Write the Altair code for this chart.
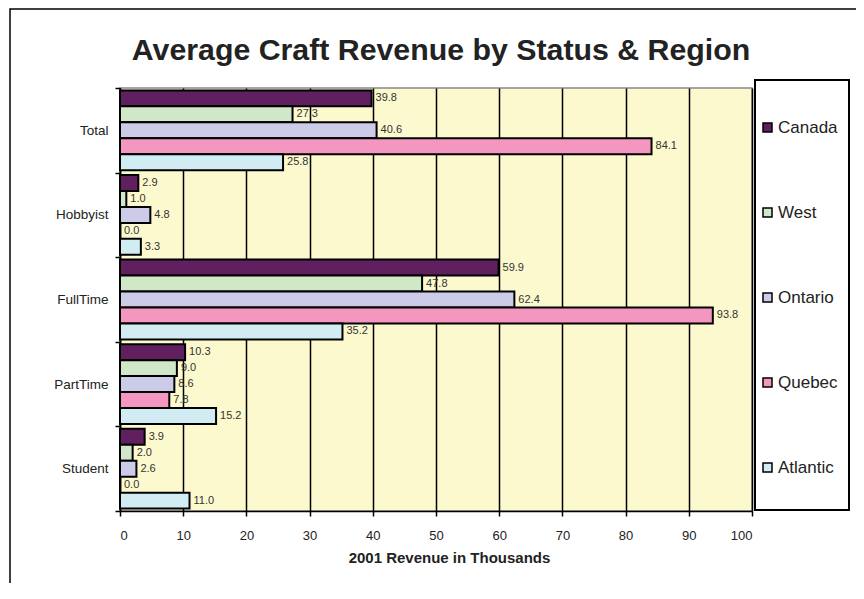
import altair as alt
import pandas as pd

statuses = ["Total", "Hobbyist", "FullTime", "PartTime", "Student"]
regions = ["Canada", "West", "Ontario", "Quebec", "Atlantic"]
canada = [39.8, 2.9, 59.9, 10.3, 3.9]
west = [27.3, 1.0, 47.8, 9.0, 2.0]
ontario = [40.6, 4.8, 62.4, 8.6, 2.6]
quebec = [84.1, 0.0, 93.8, 7.8, 0.0]
atlantic = [25.8, 3.3, 35.2, 15.2, 11.0]
colors = ["#602060", "#D0E8C8", "#CCCCE8", "#F497C0", "#D2ECF4"]
x_ticks = list(range(0, 101, 10))
title_text = "Average Craft Revenue by Status & Region"

rows = []
for reg, vals in zip(regions, [canada, west, ontario, quebec, atlantic]):
    for s, v in zip(statuses, vals):
        rows.append({"Status": s, "Region": reg, "Revenue": v})
df = pd.DataFrame(rows)

FONT = "Liberation Sans"

y_enc = alt.Y("Status:N", sort=statuses,
              scale=alt.Scale(paddingInner=0, paddingOuter=0),
              axis=alt.Axis(title=None, tickBand="extent", tickSize=5, labelPadding=7,
                            labelFontSize=13.5, labelColor="#222222", labelFont=FONT,
                            domainColor="black", domainWidth=1.5, tickColor="black",
                            tickWidth=1.5, grid=False))
yoff_enc = alt.YOffset("Region:N", sort=regions,
                       scale=alt.Scale(paddingInner=0, paddingOuter=0.15))
x_enc = alt.X("Revenue:Q", scale=alt.Scale(domain=[0, 100], nice=False),
              axis=alt.Axis(values=x_ticks, title="2001 Revenue in Thousands",
                            titleFontSize=15, titleFont=FONT, titleFontWeight="bold",
                            titleColor="#222222", titlePadding=8, titleX=329,
                            labelFontSize=13, labelFont=FONT, labelColor="#222222",
                            labelPadding=13, tickSize=5, tickColor="black", tickWidth=1.5,
                            domainColor="black", domainWidth=1.5,
                            grid=True, gridColor="black", gridWidth=1.5, gridOpacity=1))

base = alt.Chart(df)

bars = base.mark_bar(stroke="black", strokeWidth=2).encode(
    x=x_enc,
    y=y_enc,
    yOffset=yoff_enc,
    color=alt.Color("Region:N", sort=regions,
                    scale=alt.Scale(domain=regions, range=colors),
                    legend=alt.Legend(title=None, orient="none", legendX=639, legendY=31,
                                      symbolType="square", symbolSize=81,
                                      symbolStrokeColor="black", symbolStrokeWidth=1.5,
                                      labelFontSize=17, labelFont=FONT, labelColor="#222222",
                                      labelOffset=2, rowPadding=67, padding=0)),
)

labels = base.mark_text(align="left", baseline="middle", dx=4, fontSize=11,
                        font=FONT, color="#333333").encode(
    x="Revenue:Q",
    y=alt.Y("Status:N", sort=statuses),
    yOffset=alt.YOffset("Region:N", sort=regions),
    text=alt.Text("Revenue:Q", format=".1f"),
)

one = alt.Chart(pd.DataFrame({"t": [title_text]}))
legend_box = one.mark_rect(filled=False, stroke="black", strokeWidth=2).encode(
    x=alt.value(635), x2=alt.value(729), y=alt.value(-8), y2=alt.value(422))
outer_box = one.mark_rect(filled=False, stroke="black", strokeWidth=1.5).encode(
    x=alt.value(-110), x2=alt.value(900), y=alt.value(-79), y2=alt.value(700))
title = one.mark_text(fontSize=30.3, font=FONT, fontWeight="bold", color="#222222",
                      align="center", baseline="alphabetic").encode(
    x=alt.value(321), y=alt.value(-28), text="t:N")

chart = alt.layer(outer_box, bars, labels, legend_box, title).properties(
    width=632, height=423,
    background="white",
    autosize=alt.AutoSizeParams(type="none"),
    padding={"left": 112, "top": 80, "right": 104, "bottom": 72},
).configure_view(fill="#FCF9CE", stroke="#888888", strokeWidth=1.5)

chart.save("out.html", embed_options={"renderer": "svg", "actions": False})
